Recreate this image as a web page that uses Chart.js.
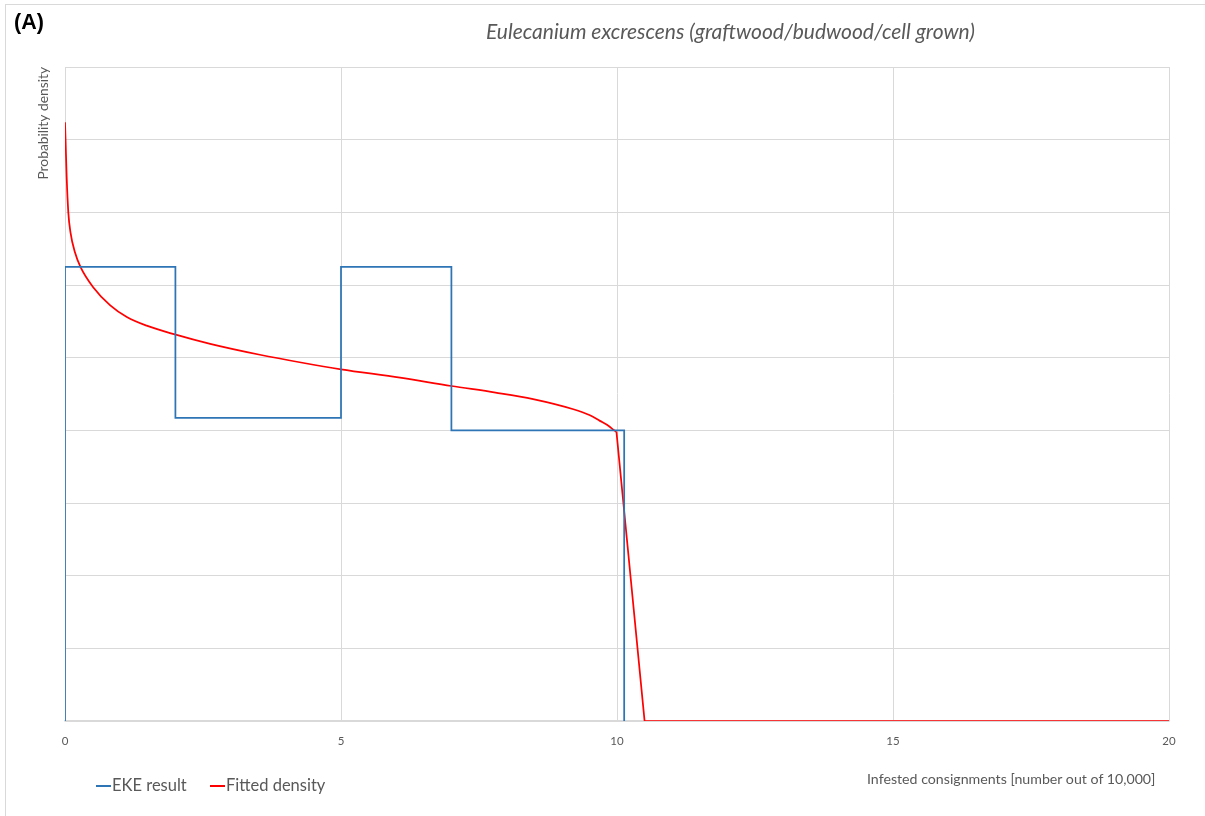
<!DOCTYPE html>
<html>
<head>
<meta charset="utf-8">
<script src="https://cdn.jsdelivr.net/npm/chart.js@4"></script>
<style>
  body { margin: 0; background: #fff; font-family: Lato, "Open Sans", sans-serif; color: #595959; }
  #wrap { position: relative; width: 1205px; height: 816px; overflow: hidden; }
  #frame { position: absolute; left: 5px; top: 4px; width: 1210px; height: 820px; border: 1.5px solid #d9d9d9; box-sizing: border-box; }
  canvas { position: absolute; left: 0; top: 0; }
  .txt { position: absolute; white-space: nowrap; }
  #tag { left: 14px; top: 10px; font-family: "Liberation Sans", Arial, sans-serif; font-size: 21.5px; font-weight: bold; color: #000; }
  #title { left: 486px; top: 18px; font-size: 21px; font-style: italic; }
  #xlab { left: 867px; top: 770px; font-size: 14.2px; }
  .leg { top: 775px; font-size: 16.5px; }
  .leg span { display: inline-block; width: 15px; height: 2px; vertical-align: middle; margin-right: 1px; position: relative; top: -1px; }
</style>
</head>
<body>
<div id="wrap">
  <div id="frame"></div>
  <canvas id="myChart" width="1205" height="816"></canvas>
  <div class="txt" id="tag">(A)</div>
  <div class="txt" id="title">Eulecanium excrescens (graftwood/budwood/cell grown)</div>
  <div class="txt" id="xlab">Infested consignments [number out of 10,000]</div>
  <div class="txt leg" style="left:96px"><span style="background:#2e75b6"></span>EKE result</div>
  <div class="txt leg" style="left:210px"><span style="background:#ff0000"></span>Fitted density</div>
</div>
<script>
// EKE result (step histogram outline)
const ekeX = [0, 0, 2, 2, 5, 5, 7, 7, 10.13, 10.13];
const ekeY = [0, 6.25, 6.25, 4.17, 4.17, 6.25, 6.25, 4.0, 4.0, 0];

// fitted density: smooth part, then the straight drop and tail
const fitX = [0, 0.01, 0.03, 0.06, 0.1, 0.18, 0.28, 0.51, 0.82, 1.12, 1.48, 1.99, 2.63, 3.53, 4.3, 5, 6.07, 7, 7.8, 8.48, 9.21, 9.5, 9.69, 9.85, 9.93, 9.99];
const fitY = [8.24, 8.0, 7.49, 7.0, 6.72, 6.45, 6.25, 5.97, 5.72, 5.56, 5.44, 5.32, 5.19, 5.04, 4.93, 4.84, 4.725, 4.61, 4.52, 4.43, 4.29, 4.21, 4.13, 4.06, 4.01, 3.98];
const tailX = [9.99, 10.5, 20];
const tailY = [3.98, 0, 0];

const xTicks = [0, 5, 10, 15, 20];

const ctx = document.getElementById('myChart');
const toPts = (xs, ys) => xs.map((x, i) => ({ x: x, y: ys[i] }));

new Chart(ctx, {
    type: 'scatter',
    data: {
        datasets: [{
            label: 'EKE result',
            data: toPts(ekeX, ekeY),
            showLine: true,
            borderColor: '#2e75b6',
            borderWidth: 1.75,
            pointRadius: 0,
            tension: 0
        }, {
            label: 'Fitted density',
            data: toPts(fitX, fitY),
            showLine: true,
            borderColor: '#ff0000',
            borderWidth: 1.75,
            pointRadius: 0,
            cubicInterpolationMode: 'monotone'
        }, {
            label: 'Fitted density',
            data: toPts(tailX, tailY),
            showLine: true,
            borderColor: '#ff0000',
            borderWidth: 1.75,
            pointRadius: 0,
            tension: 0
        }]
    },
    options: {
        responsive: false,
        animation: false,
        layout: { padding: { left: 30, top: 67, right: 36, bottom: 0 } },
        plugins: { legend: { display: false }, tooltip: { enabled: false } },
        scales: {
            x: {
                type: 'linear',
                min: 0,
                max: 20,
                afterFit: s => { s.height = 95; },
                afterBuildTicks: s => { s.ticks = xTicks.map(v => ({ value: v })); },
                grid: { color: '#d9d9d9', lineWidth: 1, drawTicks: false },
                border: { color: '#d9d9d9', width: 1.5 },
                ticks: { color: '#595959', font: { family: 'Lato', size: 11.5 }, padding: 13, maxRotation: 0 }
            },
            y: {
                min: 0,
                max: 9,
                afterFit: s => { s.width = 35; },
                ticks: { display: false, stepSize: 1 },
                grid: { color: '#d9d9d9', lineWidth: 1, drawTicks: false },
                border: { display: false },
                title: {
                    display: true,
                    text: 'Probability density',
                    align: 'end',
                    color: '#595959',
                    font: { family: 'Lato', size: 13.8 },
                    padding: { top: 5, bottom: 0 }
                }
            }
        }
    }
});
</script>
</body>
</html>
